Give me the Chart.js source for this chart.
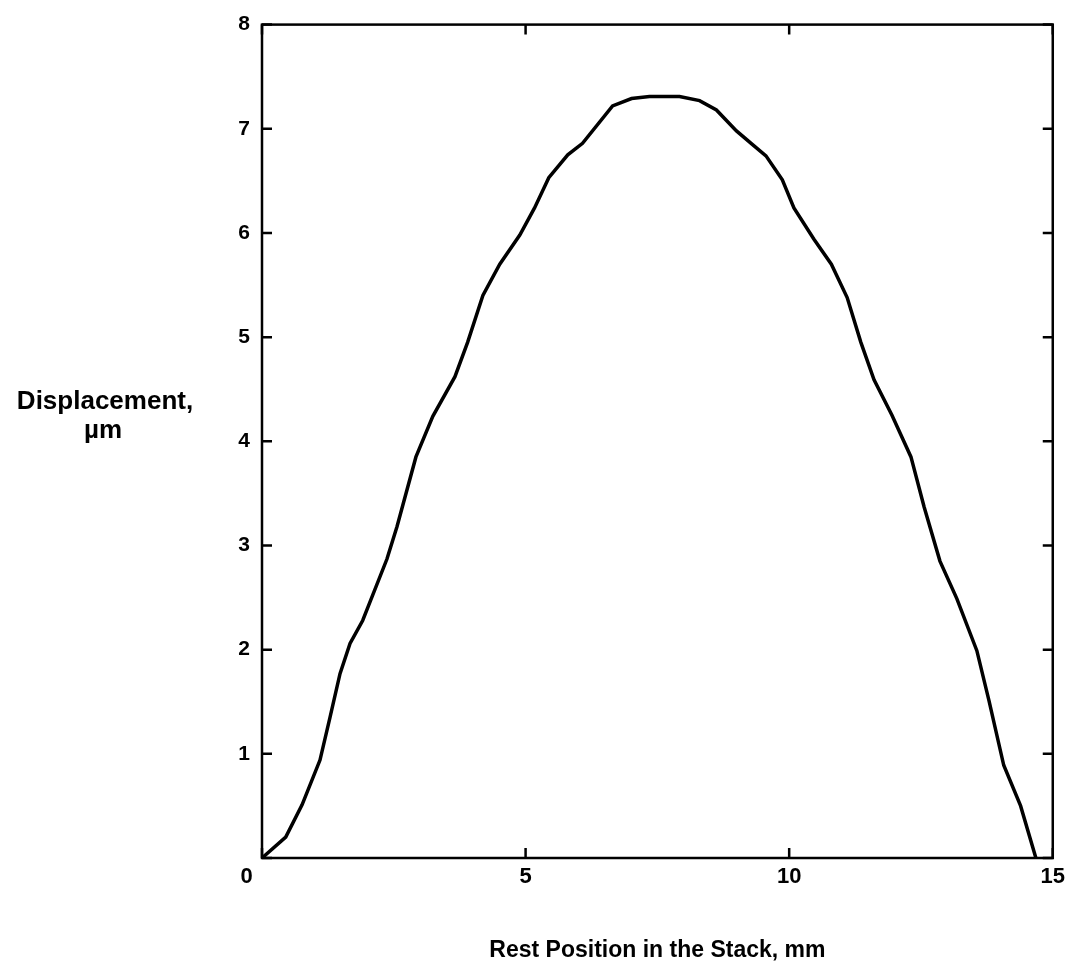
<!DOCTYPE html>
<html>
<head>
<meta charset="utf-8">
<style>
  html, body { margin: 0; padding: 0; background: #fff; }
  #wrap { position: relative; width: 1071px; height: 967px; }
</style>
<script src="https://cdn.jsdelivr.net/npm/chart.js@4.4.1/dist/chart.umd.min.js"></script>
</head>
<body>
<div id="wrap"><canvas id="chart" width="1071" height="967"></canvas></div>
<script>
// Rest position in the stack (mm) and displacement (µm)
const positionMm = [0, 0.45, 0.76, 1.10, 1.29, 1.48, 1.67, 1.91, 2.37, 2.56, 2.92, 3.24, 3.66, 3.90,
  4.19, 4.51, 4.89, 5.17, 5.44, 5.80, 6.08, 6.65, 7.01, 7.35, 7.92, 8.30, 8.62, 9.00, 9.30, 9.56,
  9.87, 10.09, 10.47, 10.80, 11.10, 11.36, 11.61, 11.95, 12.31, 12.56, 12.86, 13.18, 13.56, 13.79,
  14.07, 14.39, 14.68];
const displacementUm = [0, 0.20, 0.51, 0.94, 1.35, 1.77, 2.06, 2.28, 2.87, 3.18, 3.85, 4.24, 4.62, 4.95,
  5.40, 5.70, 5.98, 6.24, 6.53, 6.75, 6.86, 7.22, 7.29, 7.31, 7.31, 7.27, 7.18, 6.98, 6.85, 6.74,
  6.51, 6.24, 5.94, 5.70, 5.38, 4.95, 4.59, 4.25, 3.85, 3.37, 2.85, 2.49, 1.99, 1.51,
  0.89, 0.50, 0];
const xTicks = [0, 5, 10, 15];
const yTicks = [0, 1, 2, 3, 4, 5, 6, 7, 8];
const xTitle = 'Rest Position in the Stack, mm';
const yTitleLines = ['Displacement,', 'µm'];

const FONT = '"Liberation Sans", Arial, Helvetica, sans-serif';

// Frame around the plot area, inward tick marks on all four sides, axis titles
const framePlugin = {
  id: 'frame',
  afterDraw(chart) {
    const { ctx, chartArea: a, scales } = chart;
    const tl = 10;
    ctx.save();
    ctx.strokeStyle = '#000';
    ctx.lineWidth = 2.5;
    ctx.lineCap = 'butt';
    ctx.strokeRect(a.left, a.top, a.right - a.left, a.bottom - a.top);
    ctx.beginPath();
    xTicks.forEach(v => {
      const px = scales.x.getPixelForValue(v);
      ctx.moveTo(px, a.bottom); ctx.lineTo(px, a.bottom - tl);
      ctx.moveTo(px, a.top); ctx.lineTo(px, a.top + tl);
    });
    yTicks.forEach(v => {
      const py = scales.y.getPixelForValue(v);
      ctx.moveTo(a.left, py); ctx.lineTo(a.left + tl, py);
      ctx.moveTo(a.right, py); ctx.lineTo(a.right - tl, py);
    });
    ctx.stroke();

    ctx.fillStyle = '#000';
    ctx.textBaseline = 'alphabetic';
    ctx.textAlign = 'center';
    ctx.font = 'bold 23px ' + FONT;
    ctx.fillText(xTitle, (a.left + a.right) / 2, 957);
    ctx.font = 'bold 26px ' + FONT;
    ctx.fillText(yTitleLines[0], 105, 409);
    ctx.fillText(yTitleLines[1], 103, 438);
    ctx.restore();
  }
};

new Chart(document.getElementById('chart'), {
  type: 'line',
  data: {
    datasets: [{
      data: positionMm.map((x, i) => ({ x, y: displacementUm[i] })),
      borderColor: '#000',
      borderWidth: 3.5,
      pointRadius: 0,
      tension: 0,
      fill: false
    }]
  },
  options: {
    responsive: false,
    animation: false,
    devicePixelRatio: 1,
    layout: { padding: { top: 19, right: 16, left: 0, bottom: 0 } },
    plugins: { legend: { display: false }, tooltip: { enabled: false } },
    scales: {
      x: {
        type: 'linear',
        min: 0, max: 15,
        afterBuildTicks(scale) { scale.ticks = xTicks.map(v => ({ value: v })); },
        afterFit(scale) { scale.height = 109; },
        grid: { display: false, drawTicks: false },
        border: { display: false },
        ticks: {
          color: '#000',
          font: { family: FONT, size: 22, weight: 'bold' },
          padding: 6,
          maxRotation: 0,
          callback: v => (v === 0 ? '0     ' : String(v))
        }
      },
      y: {
        type: 'linear',
        min: 0, max: 8,
        afterBuildTicks(scale) { scale.ticks = yTicks.map(v => ({ value: v })); },
        afterFit(scale) { scale.width = 262; },
        grid: { display: false, drawTicks: false },
        border: { display: false },
        ticks: {
          color: '#000',
          font: { family: FONT, size: 21, weight: 'bold' },
          padding: 12,
          callback: v => (v === 0 ? '' : String(v))
        }
      }
    }
  },
  plugins: [framePlugin]
});
</script>
</body>
</html>
